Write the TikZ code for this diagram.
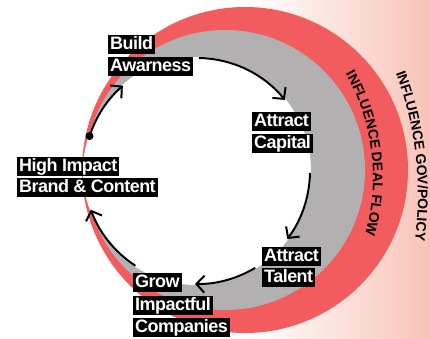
\documentclass[tikz,border=0pt]{standalone}
\usepackage{fontspec}
\newfontfamily\labfont[LetterSpace=-3]{Liberation Sans Bold}
\newcommand{\tagfont}{\labfont\fontsize{18}{20}\selectfont}
\newcommand{\ringfont}{\labfont\fontsize{14}{16}\selectfont}
\usetikzlibrary{arrows.meta,decorations.text,calc}
\definecolor{ringred}{RGB}{242,92,94}
\definecolor{ringgray}{RGB}{178,176,177}
\definecolor{pinkedge}{RGB}{249,195,183}

\begin{document}
\begin{tikzpicture}[x=1pt,y=1pt,
  tag/.style={fill=black,text=white,anchor=north west,font=\tagfont,
    inner xsep=2pt,inner ysep=0.5pt,text height=14pt,text depth=4pt},
  flow/.style={line width=2pt,-{Straight Barb[length=8pt,width=17pt]}},
  ringtext/.style={decorate,decoration={text along path,text align=center,text={|\ringfont|#1}}}
]
\useasboundingbox (0,0) rectangle (430,-339);

% background wash on the right
\shade[left color=white,right color=pinkedge] (250,0) rectangle (430,-339);

% ring centres
\coordinate (cr) at (245,-170);
\coordinate (cg) at (225,-170);
\coordinate (cw) at (197,-171);
\coordinate (cdeal) at (162,-178);
\coordinate (cgov) at (73,-195);

% rings
\fill[ringred] (cr) circle[radius=163];
\fill[ringgray] (cg) circle[radius=140];
\fill[white] (cw) circle[radius=114];

% ring captions
\path[ringtext={INFLUENCE DEAL FLOW}] ($(cdeal)+(37:211)$) arc[start angle=37,end angle=-23,radius=211];
\path[ringtext={INFLUENCE GOV/POLICY}] ($(cgov)+(29:345)$) arc[start angle=29,end angle=-16,radius=345];

% cycle steps
\node[tag] (build) at (108,-35) {Build};
\node[tag] (awareness) at (108,-57) {Awarness};
\node[tag] (attract1) at (252,-112) {Attract};
\node[tag] (capital) at (252,-134) {Capital};
\node[tag] (high) at (17,-157) {High Impact};
\node[tag] (brand) at (17,-178) {Brand \& Content};
\node[tag] (attract2) at (262,-247) {Attract};
\node[tag] (talent) at (262,-268) {Talent};
\node[tag] (grow) at (133,-273) {Grow};
\node[tag] (impactful) at (133,-296) {Impactful};
\node[tag] (companies) at (133,-318) {Companies};

% cycle arcs
\coordinate (s1) at ($(cw)+(162:113)$);
\coordinate (s2) at ($(cw)+(89:113)$);
\coordinate (s3) at ($(cw)+(-1:113)$);
\coordinate (s4) at ($(cw)+(-59:113)$);
\coordinate (s5) at ($(cw)+(-123:113)$);
\fill (s1) circle[radius=4];
\draw[flow] (s1) arc[start angle=162,end angle=131,radius=113];
\draw[flow] (s2) arc[start angle=89,end angle=39,radius=113];
\draw[flow] (s3) arc[start angle=-1,end angle=-37,radius=113];
\draw[flow] (s4) arc[start angle=-59,end angle=-91,radius=113];
\draw[flow] (s5) arc[start angle=-123,end angle=-160,radius=113];
\end{tikzpicture}
\end{document}
